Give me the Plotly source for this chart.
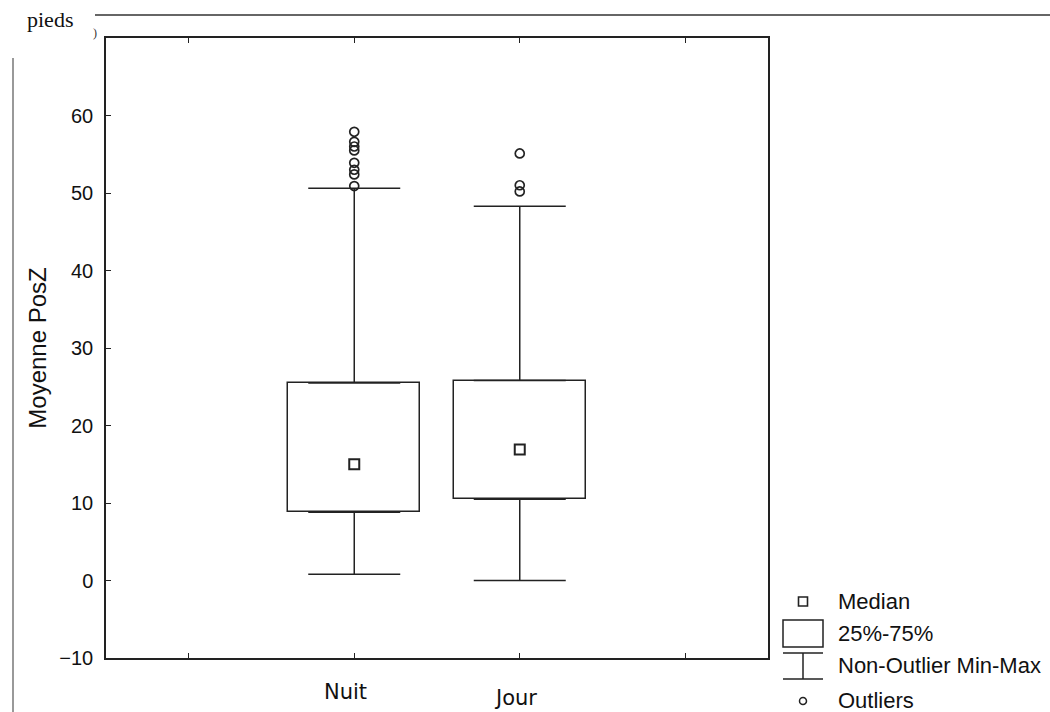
import plotly.graph_objects as go

# ---- data ----
categories = ["Nuit", "Jour"]
cat_pos = [1, 2]
q1 = [8.8, 10.5]
median = [15.0, 16.9]
q3 = [25.5, 25.8]
whisker_low = [0.8, 0.0]
whisker_high = [50.6, 48.3]
outliers_nuit = [50.9, 52.4, 53.0, 53.9, 55.5, 56.0, 56.6, 57.9]
outliers_jour = [50.2, 51.0, 55.1]
y_ticks = [-10, 0, 10, 20, 30, 40, 50, 60]
x_ticks = [0, 1, 2, 3]
legend_texts = ["Median", "25%-75%", "Non-Outlier Min-Max", "Outliers"]

LINE = "#222222"
FONT = "Liberation Sans, Arial, sans-serif"

# plot area in pixels (for converting decoration positions to paper coords)
PL, PR, PT, PB = 106, 768, 38, 658


def px(xp):
    return (xp - PL) / (PR - PL)


def py(yp):
    return (PB - yp) / (PB - PT)


fig = go.Figure()

# boxes (25%-75%)
fig.add_trace(go.Bar(
    x=cat_pos, y=[b - a for a, b in zip(q1, q3)], base=q1, width=0.8,
    marker=dict(color="white", line=dict(color=LINE, width=1.5)),
    showlegend=False, hoverinfo="skip"))

# upper whiskers
fig.add_trace(go.Scatter(
    x=cat_pos, y=q3, mode="markers", marker=dict(size=1, color="rgba(0,0,0,0)"),
    error_y=dict(type="data", symmetric=False,
                 array=[h - t for h, t in zip(whisker_high, q3)],
                 arrayminus=[0, 0], color=LINE, thickness=1.5, width=46),
    showlegend=False, hoverinfo="skip"))
# lower whiskers
fig.add_trace(go.Scatter(
    x=cat_pos, y=q1, mode="markers", marker=dict(size=1, color="rgba(0,0,0,0)"),
    error_y=dict(type="data", symmetric=False,
                 array=[0, 0],
                 arrayminus=[b - l for b, l in zip(q1, whisker_low)],
                 color=LINE, thickness=1.5, width=46),
    showlegend=False, hoverinfo="skip"))

# medians
fig.add_trace(go.Scatter(
    x=cat_pos, y=median, mode="markers",
    marker=dict(symbol="square-open", size=10, color=LINE, line=dict(width=2)),
    showlegend=False, hoverinfo="skip"))

# outliers
fig.add_trace(go.Scatter(
    x=[cat_pos[0]] * len(outliers_nuit) + [cat_pos[1]] * len(outliers_jour),
    y=outliers_nuit + outliers_jour, mode="markers",
    marker=dict(symbol="circle-open", size=9, color=LINE, line=dict(width=1.7)),
    showlegend=False, hoverinfo="skip"))

# category labels (slightly offset as in the original scan)
label_shift = [(-9, -34), (-4, -40)]
for c, p, (dx, dy) in zip(categories, cat_pos, label_shift):
    fig.add_annotation(x=p, y=0, xref="x", yref="paper", text=c, showarrow=False,
                       xshift=dx, yshift=dy, yanchor="middle",
                       font=dict(family="DejaVu Sans, sans-serif", size=21, color="#111"))

# ---- legend (drawn) ----
shapes = []
# median icon
shapes.append(dict(type="rect", xref="paper", yref="paper",
                   x0=px(798.5), x1=px(807.5), y0=py(606), y1=py(597),
                   line=dict(color=LINE, width=1.6)))
# box icon
shapes.append(dict(type="rect", xref="paper", yref="paper",
                   x0=px(783), x1=px(823), y0=py(647), y1=py(620),
                   line=dict(color=LINE, width=1.5)))
# whisker icon
shapes.append(dict(type="line", xref="paper", yref="paper",
                   x0=px(783), x1=px(823), y0=py(653), y1=py(653),
                   line=dict(color=LINE, width=1.5)))
shapes.append(dict(type="line", xref="paper", yref="paper",
                   x0=px(783), x1=px(823), y0=py(679), y1=py(679),
                   line=dict(color=LINE, width=1.5)))
shapes.append(dict(type="line", xref="paper", yref="paper",
                   x0=px(803), x1=px(803), y0=py(679), y1=py(653),
                   line=dict(color=LINE, width=1.5)))
# outlier icon
shapes.append(dict(type="circle", xref="paper", yref="paper",
                   x0=px(799.5), x1=px(806.5), y0=py(704.5), y1=py(697.5),
                   line=dict(color=LINE, width=1.5)))

legend_y_px = [601, 633, 665, 700]
for t, yy in zip(legend_texts, legend_y_px):
    fig.add_annotation(xref="paper", yref="paper", x=px(836), y=py(yy), text=t,
                       showarrow=False, xanchor="left", yanchor="middle",
                       font=dict(family=FONT, size=22, color="#111"))

# ---- scan decorations ----
shapes.append(dict(type="line", xref="paper", yref="paper",
                   x0=px(95), x1=px(1050), y0=py(15), y1=py(15),
                   line=dict(color="#333", width=1.5)))
shapes.append(dict(type="line", xref="paper", yref="paper",
                   x0=px(13), x1=px(13), y0=py(712), y1=py(58),
                   line=dict(color="#777", width=1.5)))
fig.add_annotation(xref="paper", yref="paper", x=px(50), y=py(20), text="pieds",
                   showarrow=False, xanchor="center", yanchor="middle",
                   font=dict(family="Liberation Serif, Times New Roman, serif", size=22, color="#111"))
fig.add_annotation(xref="paper", yref="paper", x=px(95), y=py(33), text=")",
                   showarrow=False, xanchor="center", yanchor="middle",
                   font=dict(family="Liberation Serif, serif", size=12, color="#333"))

fig.update_layout(
    width=1050, height=712,
    margin=dict(l=PL, r=1050 - PR, t=PT, b=712 - PB),
    paper_bgcolor="white", plot_bgcolor="white",
    shapes=shapes, bargap=0, showlegend=False,
    font=dict(family=FONT, size=20, color="#111"),
)
fig.update_xaxes(range=[-0.5, 3.5], tickvals=x_ticks, ticktext=["", "", "", ""],
                 ticks="inside", ticklen=5, tickcolor=LINE, showline=True,
                 linecolor=LINE, linewidth=1.5, mirror="ticks", showgrid=False,
                 zeroline=False, fixedrange=True)
fig.update_yaxes(range=[-10, 70], tickvals=y_ticks, ticks="inside", ticklen=5,
                 tickcolor=LINE, showline=True, linecolor=LINE, linewidth=1.5,
                 mirror=True, showgrid=False, zeroline=False,
                 ticklabelstandoff=7, tickfont=dict(size=20),
                 title=dict(text="Moyenne PosZ", standoff=6,
                            font=dict(family=FONT, size=24)))

fig.write_html("out.html")
